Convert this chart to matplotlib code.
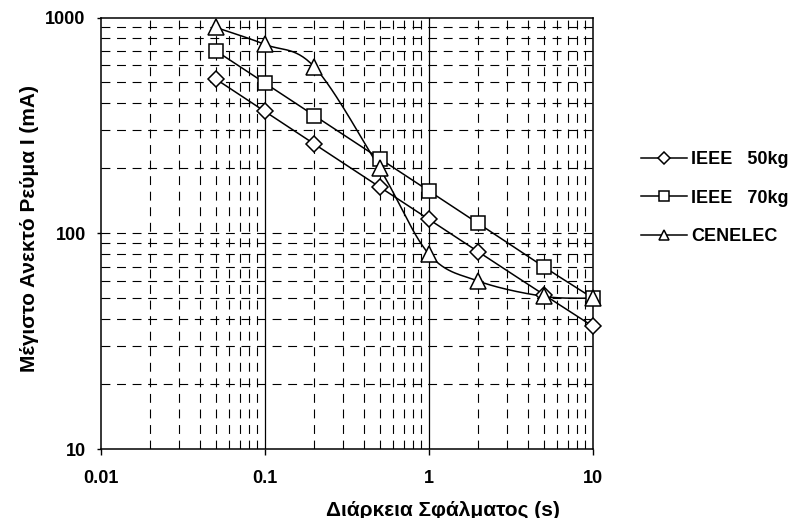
import numpy as np
import matplotlib
matplotlib.use("Agg")
import matplotlib.pyplot as plt
from matplotlib.lines import Line2D

plt.rcParams['font.family'] = ['Liberation Sans', 'DejaVu Sans']
plt.rcParams['font.weight'] = 'bold'

t = [0.05, 0.1, 0.2, 0.5, 1, 2, 5, 10]
ieee50 = [519, 367, 259, 164, 116, 82, 52, 37]
ieee70 = [702, 496, 351, 222, 157, 111, 70, 50]
cenelec = [900, 750, 590, 200, 80, 60, 51, 50]
labels = ["IEEE   50kg", "IEEE   70kg", "CENELEC"]
markers = ['D', 's', '^']
msizes = [8.5, 10.5, 11]

fig = plt.figure(figsize=(7.9, 5.18), dpi=100)
ax = fig.add_axes([101/790, 1-449/518, (593-101)/790, (449-17.5)/518])
ax.set_xscale('log')
ax.set_yscale('log')
ax.set_xlim(0.01, 10)
ax.set_ylim(10, 1000)


def smooth(x, y, n=30):
    lx = np.log10(np.asarray(x, float))
    ly = np.log10(np.asarray(y, float))
    P = np.column_stack([lx, ly])
    pts = [P[0]]
    m = len(P)
    for i in range(m - 1):
        p0 = P[i - 1] if i > 0 else P[i]
        p1 = P[i]
        p2 = P[i + 1]
        p3 = P[i + 2] if i + 2 < m else P[i + 1]
        c1 = p1 + (p2 - p0) / 6
        c2 = p2 - (p3 - p1) / 6
        s = np.linspace(0, 1, n)[1:, None]
        seg = ((1 - s) ** 3) * p1 + 3 * ((1 - s) ** 2) * s * c1 + 3 * (1 - s) * s ** 2 * c2 + s ** 3 * p2
        pts.extend(seg)
    pts = np.array(pts)
    return 10 ** pts[:, 0], 10 ** pts[:, 1]


dash = (0, (8, 6))
for dec in [0.01, 0.1, 1]:
    for k in range(2, 10):
        ax.axvline(dec * k, color='black', lw=0.8, ls=dash, zorder=1)
for dec in [0.1, 1]:
    ax.axvline(dec, color='black', lw=0.9, zorder=1)
for dec in [10, 100]:
    for k in range(1, 10):
        if dec * k == 10:
            continue
        ax.axhline(dec * k, color='black', lw=0.8, ls=dash, zorder=1)

handles = []
for y, lab, mk, ms in zip([ieee50, ieee70, cenelec], labels, markers, msizes):
    sx, sy = smooth(t, y)
    ax.plot(sx, sy, color='black', lw=1.1, zorder=3, clip_on=False)
    ax.plot(t, y, ls='none', marker=mk, ms=ms, mfc='white', mec='black', mew=1.1,
            zorder=4, clip_on=False)
    handles.append(Line2D([], [], color='black', lw=1.1, marker=mk, ms=ms * 0.7,
                          mfc='white', mec='black', mew=1.1))

ax.set_xticks([0.01, 0.1, 1, 10])
ax.set_xticklabels(['0.01', '0.1', '1', '10'])
ax.set_yticks([10, 100, 1000])
ax.set_yticklabels(['10', '100', '1000'])
ax.minorticks_off()
ax.tick_params(axis='x', direction='out', length=4.3, width=1, pad=11, labelsize=13)
ax.tick_params(axis='y', direction='out', length=3, width=1, pad=8, labelsize=13)
for sp in ax.spines.values():
    sp.set_linewidth(1.1)

fig.text(443/790, 1-510/518, 'Διάρκεια Σφάλματος (s)', fontsize=15, fontweight='bold',
         ha='center', va='center')
fig.text(30/790, 1-228/518, 'Μέγιστο Ανεκτό Ρεύμα I (mA)', fontsize=15, fontweight='bold',
         ha='center', va='center', rotation=90)

fig.legend(handles, labels, loc='center left', bbox_to_anchor=(632/790, 1-198/518),
           frameon=False, prop={'weight': 'bold', 'size': 13},
           handlelength=2.55, handletextpad=0.22, labelspacing=1.2, borderpad=0)

fig.savefig('out.png', dpi=100)
